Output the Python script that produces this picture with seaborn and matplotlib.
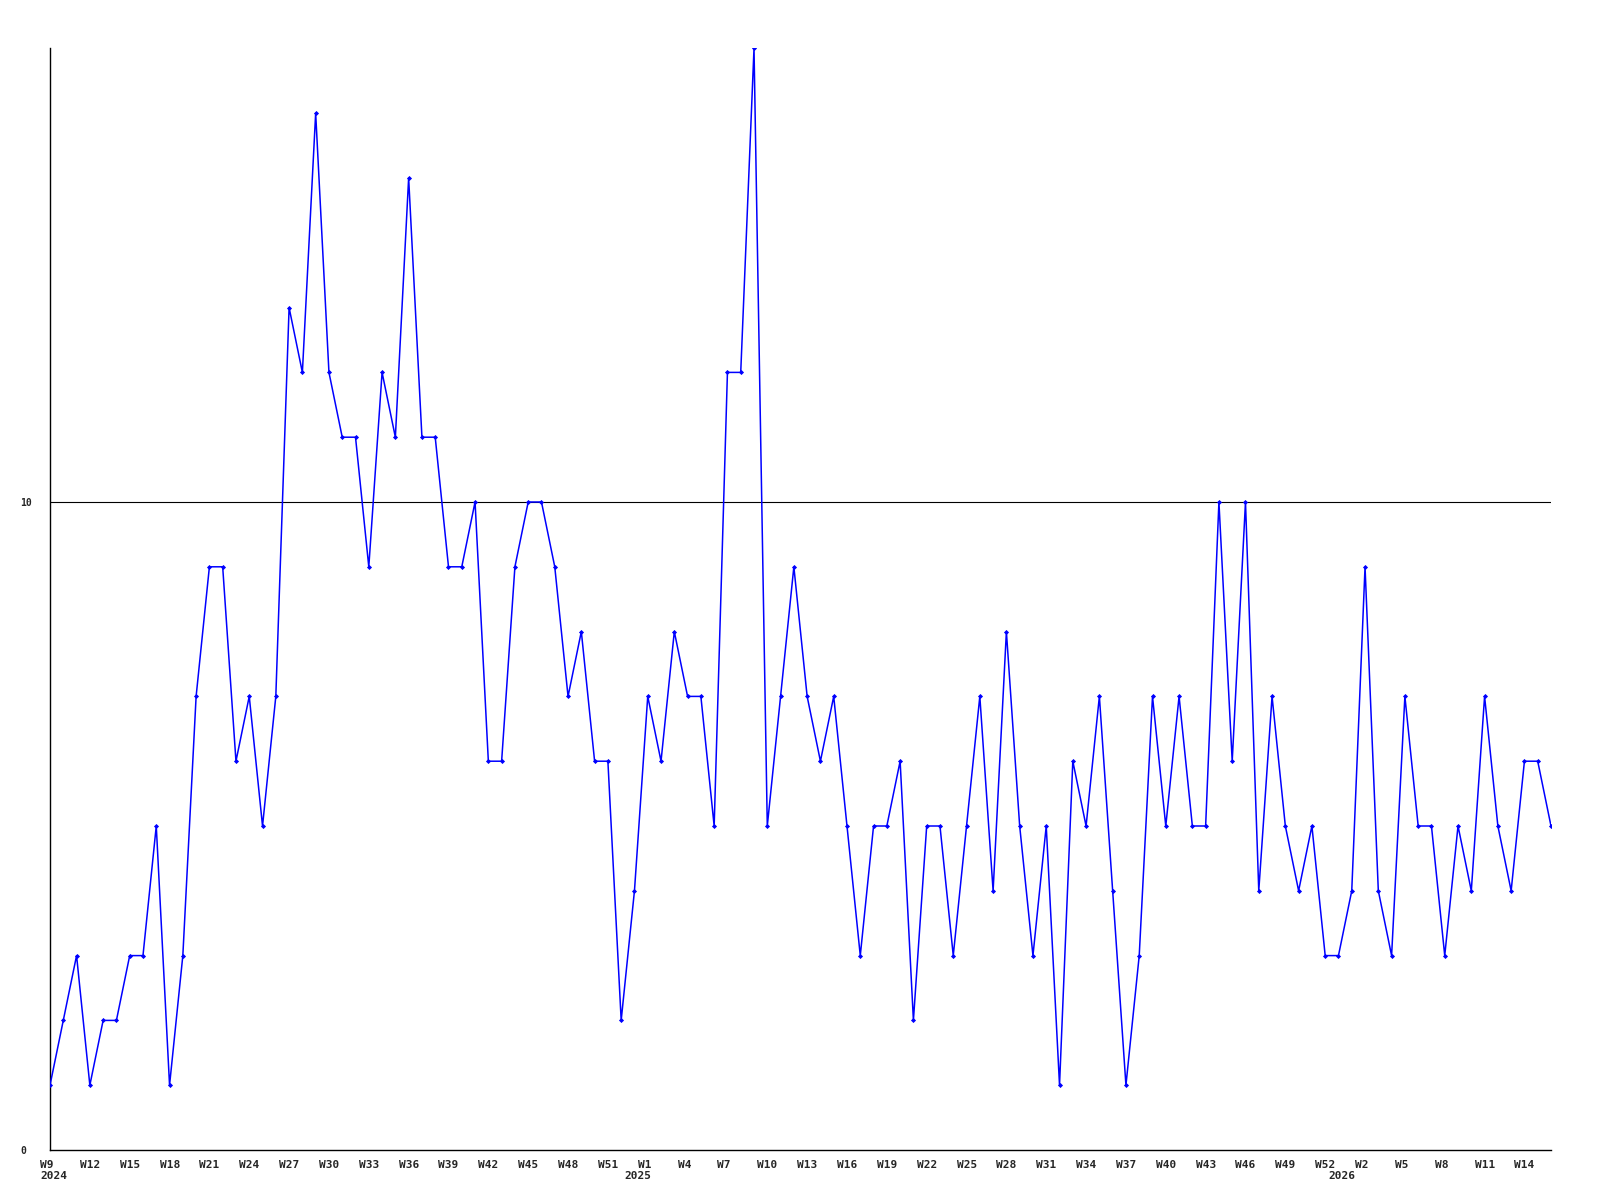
import seaborn as sns
import matplotlib.pyplot as plt
import matplotlib.transforms as mtransforms
import pandas as pd

# Valores semanais (W9 2024 -> W16 2026)
valores = [1, 2, 3, 1, 2, 2, 3, 3, 5, 1, 3, 7, 9, 9, 6, 7, 5, 7, 13, 12,
           16, 12, 11, 11, 9, 12, 11, 15, 11, 11, 9, 9, 10, 6, 6, 9, 10, 10, 9, 7,
           8, 6, 6, 2, 4, 7, 6, 8, 7, 7, 5, 12, 12, 17, 5, 7, 9, 7, 6, 7,
           5, 3, 5, 5, 6, 2, 5, 5, 3, 5, 7, 4, 8, 5, 3, 5, 1, 6, 5, 7,
           4, 1, 3, 7, 5, 7, 5, 5, 10, 6, 10, 4, 7, 5, 4, 5, 3, 3, 4, 9,
           4, 3, 7, 5, 5, 3, 5, 4, 7, 5, 4, 6, 6, 5]

# Rotulos do eixo x (um a cada 3 semanas)
semanas = ['W9', 'W12', 'W15', 'W18', 'W21', 'W24', 'W27', 'W30', 'W33', 'W36',
           'W39', 'W42', 'W45', 'W48', 'W51', 'W1', 'W4', 'W7', 'W10', 'W13',
           'W16', 'W19', 'W22', 'W25', 'W28', 'W31', 'W34', 'W37', 'W40', 'W43',
           'W46', 'W49', 'W52', 'W2', 'W5', 'W8', 'W11', 'W14']
anos = ['2024', '2025', '2026']
inicio_ano = [0, 44, 97]

df = pd.DataFrame({'i': range(len(valores)), 'valor': valores})

sns.set_style('white')
plt.rcParams['font.family'] = ['DejaVu Sans Mono']
plt.rcParams['font.weight'] = 'bold'

fig = plt.figure(figsize=(16, 12), dpi=100)
ax = fig.add_axes([50 / 1600, 50 / 1200, 1501 / 1600, 1101.6 / 1200])

ax.axhline(10, color='black', lw=0.8, zorder=1)
sns.lineplot(data=df, x='i', y='valor', ax=ax, color='#0000ff', lw=1.1,
             marker='D', markersize=2.6, markeredgewidth=0, zorder=3)

ax.set_xlim(0, len(valores) - 1)
ax.set_ylim(0, max(valores))

for s in ['top', 'right']:
    ax.spines[s].set_visible(False)
for s in ['left', 'bottom']:
    ax.spines[s].set_color('black')
    ax.spines[s].set_linewidth(1.0)

# eixo x
ax.set_xticks(range(0, len(valores), 3)[:len(semanas)])
ax.set_xticklabels(semanas, fontsize=8, fontweight='bold')
ax.tick_params(axis='x', length=0, pad=7)
desloc = mtransforms.ScaledTranslation(-10 / 100, 0, fig.dpi_scale_trans)
for lab in ax.get_xticklabels():
    lab.set_horizontalalignment('left')
    lab.set_transform(lab.get_transform() + desloc)

trans = mtransforms.blended_transform_factory(ax.transData, ax.transAxes)
for a, p in zip(anos, inicio_ano):
    ax.text(p, 0, a, transform=trans + mtransforms.ScaledTranslation(-10 / 100, -21 / 100, fig.dpi_scale_trans),
            ha='left', va='top', fontsize=8, fontweight='bold')

# eixo y
ax.set_yticks([0, 10])
ax.set_yticklabels(['0', '10'], fontsize=7, fontweight='bold')
ax.tick_params(axis='y', length=0, pad=21.6)
for lab in ax.get_yticklabels():
    lab.set_horizontalalignment('left')

ax.set_xlabel('')
ax.set_ylabel('')

plt.savefig('out.png', dpi=100)
